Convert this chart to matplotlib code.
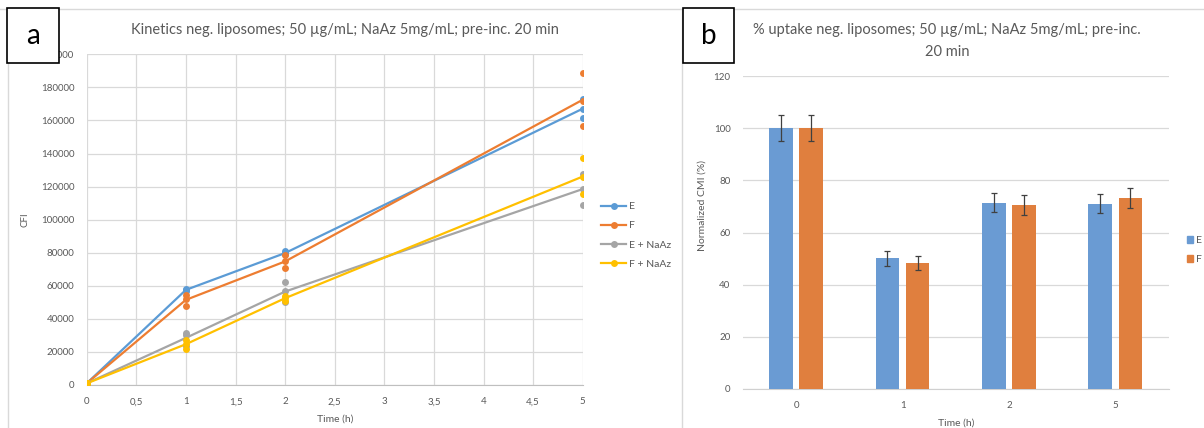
"""
Two-panel liposome uptake figure: (a) kinetics of CFI over time with replicate
points, (b) normalized CMI per time point as grouped bars with error bars.
"""
import numpy as np
import matplotlib
matplotlib.use("Agg")
import matplotlib.pyplot as plt
from matplotlib.lines import Line2D
from matplotlib.patches import Rectangle

plt.rcParams["font.family"] = ["Lato", "DejaVu Sans"]

# ── data: panel a (kinetics, three replicates per time point) ────────────────
TIMES = [0, 1, 2, 5]
SERIES = ["E", "F", "E + NaAz", "F + NaAz"]
REP_E = [[1000, 1000, 1000], [58000, 57600, 57000], [80800, 79600, 79000], [173000, 166700, 161600]]
REP_F = [[1000, 1000, 1000], [54500, 52000, 48000], [78500, 75000, 70700], [188900, 172000, 156600]]
REP_E_NAAZ = [[1000, 1000, 1000], [31500, 30500, 23500], [62200, 57000, 50300], [127800, 118600, 109100]]
REP_F_NAAZ = [[1000, 1000, 1000], [27500, 24500, 22000], [54000, 52500, 51000], [137000, 125600, 115600]]
X_TICKS_A = [0, 0.5, 1, 1.5, 2, 2.5, 3, 3.5, 4, 4.5, 5]
X_TICKLABELS_A = ["0", "0,5", "1", "1,5", "2", "2,5", "3", "3,5", "4", "4,5", "5"]

# ── data: panel b (normalized uptake, %) ─────────────────────────────────────
CATEGORIES_B = ["0", "1", "2", "5"]
UPTAKE_E = [100, 50.1, 71.4, 71.1]
UPTAKE_F = [100, 48.2, 70.6, 73.2]
ERR_E = [5.0, 2.8, 3.7, 3.8]
ERR_F = [5.0, 2.6, 3.8, 3.7]

COLORS_A = ["#5B9BD5", "#ED7D31", "#A5A5A5", "#FFC000"]
COLOR_BAR_E = "#6A9BD3"
COLOR_BAR_F = "#E07F3E"
TXT = "#595959"
GRID = "#D9D9D9"

W, H = 1204, 428


def fx(px):
    return px / W


def fy(py):
    return 1 - py / H


fig = plt.figure(figsize=(W / 100, H / 100), dpi=100)

# ── panel a ───────────────────────────────────────────────────────────────────
ax = fig.add_axes([fx(86.7), fy(385), fx(582.7) - fx(86.7), fy(54.3) - fy(385)])
for reps, color, name in zip([REP_E, REP_F, REP_E_NAAZ, REP_F_NAAZ], COLORS_A, SERIES):
    reps = np.array(reps, dtype=float)
    ax.plot(TIMES, reps.mean(axis=1), color=color, lw=1.6, zorder=3, label=name)
    for t, r in zip(TIMES, reps):
        ax.plot([t] * len(r), r, "o", color=color, ms=5, mec="none", zorder=4)

ax.set_xlim(0, 5)
ax.set_ylim(0, 200000)
ax.set_xticks(X_TICKS_A)
ax.set_xticklabels(X_TICKLABELS_A)
ax.set_yticks(np.arange(0, 200001, 20000))
ax.grid(True, color=GRID, lw=0.9, zorder=0)
ax.set_axisbelow(True)
for s in ["top", "right", "left"]:
    ax.spines[s].set_visible(False)
ax.spines["bottom"].set_color("#BFBFBF")
ax.tick_params(length=0, labelsize=7, colors=TXT, pad=9)
ax.set_xlabel("Time (h)", fontsize=7.5, color=TXT, labelpad=6)
ax.set_ylabel("CFI", fontsize=7, color=TXT, labelpad=8)
fig.text(fx(345), fy(30), "Kinetics neg. liposomes; 50 µg/mL; NaAz 5mg/mL; pre-inc. 20 min",
         ha="center", va="center", fontsize=10.5, color=TXT)

handles_a = [Line2D([], [], color=c, marker="o", ms=5, mec="none", lw=1.6) for c in COLORS_A]
fig.legend(handles_a, SERIES, loc="upper left", bbox_to_anchor=(fx(601), fy(202)),
           frameon=False, fontsize=7.5, labelcolor=TXT, handlelength=2.4,
           handletextpad=0.3, labelspacing=0.95, borderpad=0, borderaxespad=0)

# ── panel b ───────────────────────────────────────────────────────────────────
bx = fig.add_axes([fx(743), fy(389), fx(1168.5) - fx(743), fy(76) - fy(389)])
x = np.arange(len(CATEGORIES_B))
bar_w = 0.222
off = 0.142
err_kw = dict(ecolor="#404040", elinewidth=0.9, capsize=2.5, capthick=0.9)
bx.bar(x - off, UPTAKE_E, width=bar_w, color=COLOR_BAR_E, yerr=ERR_E,
       error_kw=err_kw, zorder=3, label="E")
bx.bar(x + off, UPTAKE_F, width=bar_w, color=COLOR_BAR_F, yerr=ERR_F,
       error_kw=err_kw, zorder=3, label="F")
bx.set_xlim(-0.5, 3.5)
bx.set_ylim(0, 120)
bx.set_yticks(np.arange(0, 121, 20))
bx.set_xticks(x)
bx.set_xticklabels(CATEGORIES_B)
bx.yaxis.grid(True, color=GRID, lw=0.9, zorder=0)
bx.set_axisbelow(True)
for s in ["top", "right", "left"]:
    bx.spines[s].set_visible(False)
bx.spines["bottom"].set_color("#D0D0D0")
bx.tick_params(length=0, labelsize=7, colors=TXT, pad=9)
bx.set_xlabel("Time (h)", fontsize=7.5, color=TXT, labelpad=6)
fig.text(fx(702), fy(205), "Normalized CMI (%)", rotation=90, ha="center", va="center",
         fontsize=7.5, color=TXT)
fig.text(fx(947), fy(30), "% uptake neg. liposomes; 50 µg/mL; NaAz 5mg/mL; pre-inc.",
         ha="center", va="center", fontsize=10.5, color=TXT)
fig.text(fx(947), fy(52), "20 min", ha="center", va="center", fontsize=10.5, color=TXT)

handles_b = [Rectangle((0, 0), 1, 1, color=COLOR_BAR_E), Rectangle((0, 0), 1, 1, color=COLOR_BAR_F)]
fig.legend(handles_b, ["E", "F"], loc="upper left", bbox_to_anchor=(fx(1187), fy(236)),
           frameon=False, fontsize=7.5, labelcolor=TXT, handlelength=0.6, handleheight=0.6,
           handletextpad=0.3, labelspacing=0.95, borderpad=0, borderaxespad=0)

# ── panel frames and letter boxes ─────────────────────────────────────────────
for xs, ys in [((0, 1), (fy(9), fy(9))),
               ((fx(8), fx(8)), (fy(9), 0)),
               ((fx(681.7), fx(681.7)), (fy(9), 0))]:
    fig.add_artist(Line2D(xs, ys, transform=fig.transFigure, color=GRID, lw=1))

for letter, x0, x1 in [("a", 7.3, 59.3), ("b", 682.7, 734)]:
    fig.add_artist(Rectangle((fx(x0), fy(63.3)), fx(x1) - fx(x0), fy(8.3) - fy(63.3),
                             transform=fig.transFigure, fc="white", ec="black",
                             lw=1.2, zorder=5))
    fig.text(fx((x0 + x1) / 2), fy(36), letter, ha="center", va="center",
             fontsize=20, color="black", zorder=6)

fig.savefig("out.png", dpi=100)
